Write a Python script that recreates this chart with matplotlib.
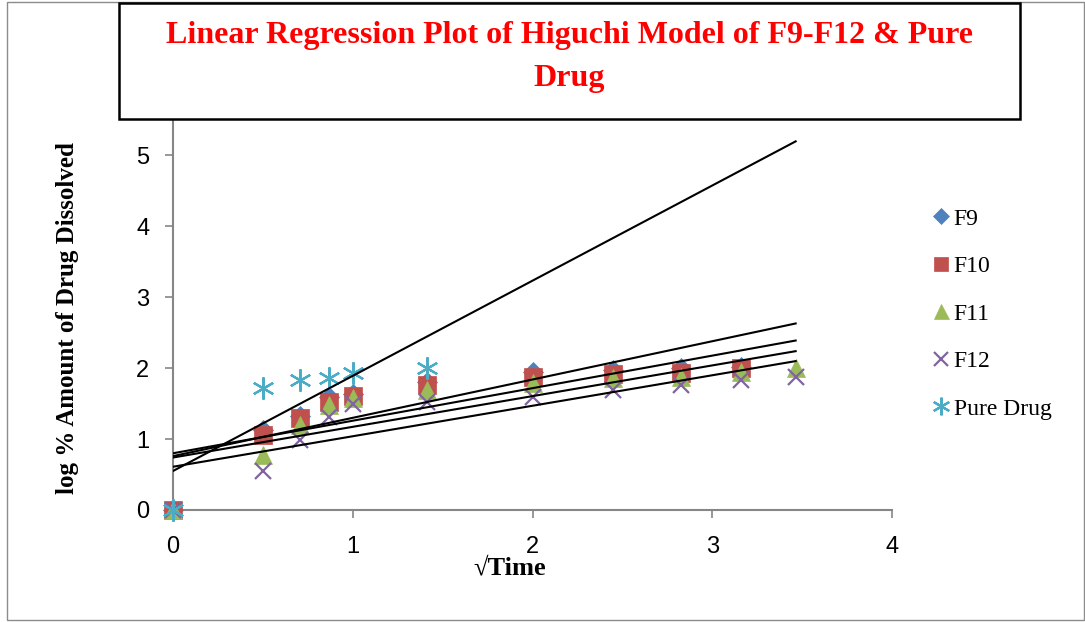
import numpy as np
import matplotlib.pyplot as plt
from matplotlib.patches import Rectangle

# Higuchi model: log % drug dissolved against square root of time
sqrt_time = [0, 0.5, 0.707, 0.866, 1.0, 1.414, 2.0, 2.449, 2.828, 3.162, 3.464]

f9 = [0, 1.13, 1.33, 1.59, 1.63, 1.80, 1.94, 1.97, 2.00, 2.02]
f10 = [0, 1.06, 1.30, 1.52, 1.61, 1.76, 1.88, 1.92, 1.93, 2.00]
f11 = [0, 0.77, 1.20, 1.48, 1.58, 1.69, 1.79, 1.86, 1.88, 1.95, 2.00]
f12 = [0, 0.55, 0.99, 1.31, 1.50, 1.52, 1.60, 1.69, 1.76, 1.83, 1.87]
pure_drug = [0, 1.72, 1.84, 1.86, 1.93, 2.00]

labels = ["F9", "F10", "F11", "F12", "Pure Drug"]

# linear trendlines (y = slope * x + intercept)
trend_slope = [0.540, 0.459, 0.433, 0.430, 1.342]
trend_intercept = [0.76, 0.80, 0.74, 0.61, 0.55]

series = [f9, f10, f11, f12, pure_drug]
colors = ["#4F81BD", "#C0504D", "#9BBB59", "#8064A2", "#4BACC6"]
markers = ["D", "s", "^", "x", (6, 2, 0)]
sizes = [10, 13, 13.5, 12, 16]

serif = ["Liberation Serif", "DejaVu Serif"]
tick_font = ["Liberation Sans Narrow", "Liberation Sans", "DejaVu Sans"]

W, H = 1085, 622
fig = plt.figure(figsize=(W / 100, H / 100), dpi=100)
ax = fig.add_axes([173 / W, 1 - 510 / H, 719 / W, 390 / H])

for y, lab, c, m, s in zip(series, labels, colors, markers, sizes):
    x = sqrt_time[:len(y)]
    ax.plot(x, y, ls="none", marker=m, color=c, markersize=s,
            markeredgewidth=1.6 if m in ("x", (6, 2, 0)) else 0.5,
            label=lab, clip_on=False, zorder=3)

xfit = np.array([0, max(sqrt_time)])
for k, b in zip(trend_slope, trend_intercept):
    ax.plot(xfit, k * xfit + b, color="black", lw=1.5, zorder=4)

ax.set_xlim(0, 4)
ax.set_ylim(0, 5.5)
ax.set_xticks(range(0, 5))
ax.set_yticks(range(0, 6))
for side in ["top", "right"]:
    ax.spines[side].set_visible(False)
for side in ["left", "bottom"]:
    ax.spines[side].set_color("#868686")
    ax.spines[side].set_linewidth(1.5)
ax.tick_params(direction="out", length=6, width=1.2, color="#868686")
ax.tick_params(axis="x", pad=13)
ax.tick_params(axis="y", pad=11)
for t in ax.get_xticklabels() + ax.get_yticklabels():
    t.set_family(tick_font)
    t.set_fontsize(17)

fig.text(510 / W, 1 - 568 / H, "√Time", ha="center", va="center",
         family=serif, fontweight="bold", fontsize=19)
fig.text(68 / W, 1 - 318 / H, "log % Amount of Drug Dissolved", rotation=90,
         ha="center", va="center", family=serif, fontweight="bold", fontsize=18)

# outer chart border and title box
fig.patches.append(Rectangle((7 / W, 1 - 620 / H), 1077 / W, 618 / H,
                             transform=fig.transFigure, fill=False,
                             edgecolor="#8c8c8c", lw=1))
fig.patches.append(Rectangle((119 / W, 1 - 119 / H), 901 / W, 116 / H,
                             transform=fig.transFigure, facecolor="white",
                             edgecolor="black", lw=1.8, zorder=5))
fig.text(569 / W, 1 - 57 / H,
         "Linear Regression Plot of Higuchi Model of F9-F12 & Pure\nDrug",
         ha="center", va="center", color="red", family=serif,
         fontweight="bold", fontsize=23, linespacing=1.62, zorder=6)

leg = fig.legend(loc="center left", bbox_to_anchor=(910 / W, 1 - 314 / H),
                 frameon=False, prop={"family": serif, "size": 17},
                 handlelength=0.8, handletextpad=0.15, labelspacing=1.1,
                 markerscale=0.8)

fig.savefig("out.png", dpi=100)
